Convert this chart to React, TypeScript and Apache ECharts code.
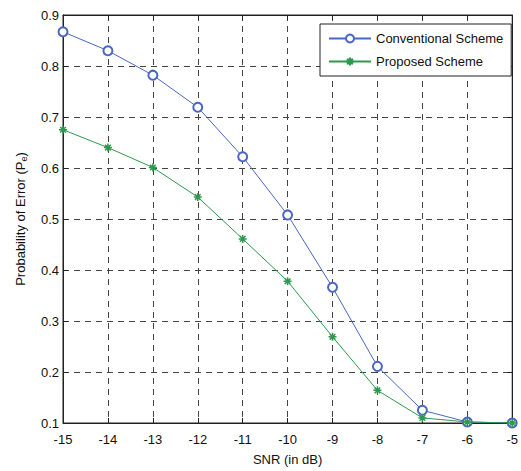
import React, { useEffect, useRef } from "react";
import * as echarts from "echarts";

const snr = [-15, -14, -13, -12, -11, -10, -9, -8, -7, -6, -5];
const conventional = [0.867, 0.83, 0.782, 0.719, 0.622, 0.508, 0.366, 0.211, 0.125, 0.102, 0.1];
const proposed = [0.675, 0.64, 0.601, 0.543, 0.461, 0.378, 0.269, 0.164, 0.11, 0.102, 0.1];
const seriesNames = ["Conventional Scheme", "Proposed Scheme"];

const BLUE = "#4b67c4";
const GREEN = "#2c9a4e";
const FONT = "Liberation Sans";
const STAR = "path://M0,5L10,5M5,0L5,10M1.5,1.5L8.5,8.5M8.5,1.5L1.5,8.5";

const gridLine = { show: true, lineStyle: { color: "#444", type: [6, 5], width: 1 } };
const tick = { show: true, inside: true, length: 5, lineStyle: { color: "#222" } };

export default function App() {
  const ref = useRef<HTMLDivElement>(null);
  useEffect(() => {
    if (!ref.current) return;
    const chart = echarts.init(ref.current, null, { renderer: "svg" });
    chart.setOption({
      animation: false,
      backgroundColor: "#fff",
      textStyle: { fontFamily: FONT },
      grid: {
        left: 63,
        right: 5,
        top: 15,
        bottom: 44,
        show: true,
        borderColor: "#222",
        borderWidth: 1,
        backgroundColor: "transparent",
      },
      legend: {
        orient: "vertical",
        left: 320,
        top: 24,
        width: 192,
        backgroundColor: "#fff",
        borderColor: "#222",
        borderWidth: 1,
        padding: [8, 8, 8, 8],
        itemGap: 10,
        itemWidth: 42,
        itemHeight: 10,
        textStyle: { fontFamily: FONT, fontSize: 13, color: "#111" },
        data: seriesNames,
      },
      xAxis: [
        {
          type: "value",
          min: -15,
          max: -5,
          interval: 1,
          name: "SNR (in dB)",
          nameLocation: "middle",
          nameGap: 30,
          nameTextStyle: { fontFamily: FONT, fontSize: 13, color: "#111" },
          axisLine: { show: true, onZero: false, lineStyle: { color: "#222", width: 1 } },
          axisTick: tick,
          axisLabel: { color: "#111", fontSize: 13, fontFamily: FONT, margin: 10 },
          splitLine: gridLine,
        },
        {
          type: "value",
          position: "top",
          min: -15,
          max: -5,
          interval: 1,
          axisLine: { show: true, onZero: false, lineStyle: { color: "#222", width: 1 } },
          axisTick: tick,
          axisLabel: { show: false },
          splitLine: { show: false },
        },
      ],
      yAxis: [
        {
          type: "value",
          min: 0.1,
          max: 0.9,
          interval: 0.1,
          name: "Probability of Error (P{sub|e})",
          nameLocation: "middle",
          nameGap: 35,
          nameRotate: 90,
          nameTextStyle: {
            fontFamily: FONT,
            fontSize: 13,
            color: "#111",
            rich: { sub: { fontSize: 9, verticalAlign: "bottom", padding: [7, 0, 0, 0], fontFamily: FONT, color: "#111" } },
          },
          axisLine: { show: true, onZero: false, lineStyle: { color: "#222", width: 1 } },
          axisTick: tick,
          axisLabel: {
            color: "#111",
            fontSize: 13,
            fontFamily: FONT,
            margin: 4,
            formatter: (v: number) => v.toFixed(1),
          },
          splitLine: gridLine,
        },
        {
          type: "value",
          position: "right",
          min: 0.1,
          max: 0.9,
          interval: 0.1,
          axisLine: { show: true, onZero: false, lineStyle: { color: "#222", width: 1 } },
          axisTick: tick,
          axisLabel: { show: false },
          splitLine: { show: false },
        },
      ],
      series: [
        {
          name: seriesNames[0],
          type: "line",
          data: snr.map((x, i) => [x, conventional[i]]),
          symbol: "emptyCircle",
          symbolSize: 9,
          lineStyle: { color: BLUE, width: 1 },
          itemStyle: { color: BLUE, borderColor: BLUE, borderWidth: 0.9 },
          z: 3,
        },
        {
          name: seriesNames[1],
          type: "line",
          data: snr.map((x, i) => [x, proposed[i]]),
          symbol: STAR,
          symbolSize: 8,
          lineStyle: { color: GREEN, width: 1 },
          itemStyle: { color: GREEN, borderColor: GREEN, borderWidth: 1.5 },
          z: 4,
        },
      ],
    });
    return () => chart.dispose();
  }, []);
  return <div ref={ref} style={{ width: 521, height: 471, position: "absolute", left: 0, top: 0 }} />;
}
